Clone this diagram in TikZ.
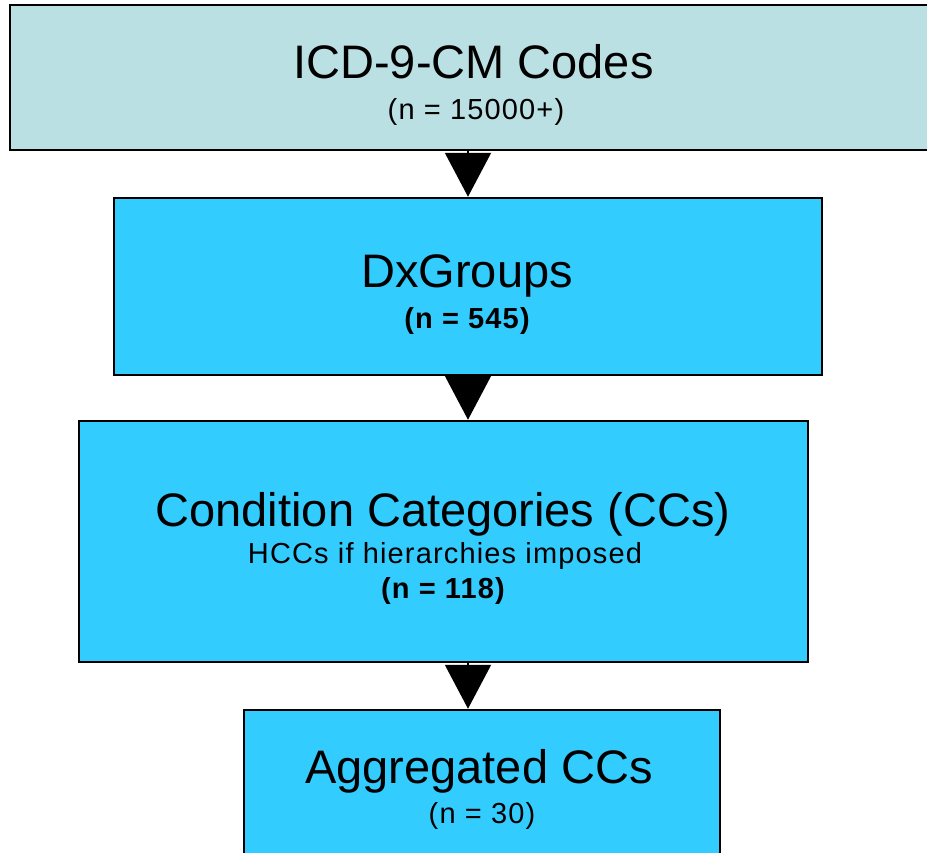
\documentclass[tikz,border=0pt]{standalone}
\usepackage{fontspec}
\setmainfont{Liberation Sans}
\newfontfamily\subfam[LetterSpace=4]{Liberation Sans}
\usetikzlibrary{arrows.meta}

\definecolor{icdteal}{HTML}{BBE0E3}
\definecolor{ccblue}{HTML}{33CCFF}

\tikzset{
  box/.style={draw=black, line width=2.5pt, fill=ccblue, inner sep=0pt},
  bigtxt/.style={anchor=base, font=\fontsize{47}{56}\selectfont},
  subtxt/.style={anchor=base, font=\subfam\fontsize{29}{35}\selectfont},
  arr/.style={line width=2pt, -{Triangle[width=46pt,length=44pt]}}
}

\begin{document}
\begin{tikzpicture}[x=1pt,y=-1pt]
\useasboundingbox (0,0) rectangle (927,852);

\node[box, fill=icdteal, minimum width=927pt, minimum height=145pt] (icd) at (473.5,77.5) {};
\node[bigtxt] (icdname) at (473.5,78) {ICD-9-CM Codes};
\node[subtxt] (icdn) at (476,119) {(n = 15000+)};

\node[box, minimum width=708pt, minimum height=177pt] (dx) at (468,286.5) {};
\node[bigtxt] (dxname) at (467,287) {DxGroups};
\node[subtxt] (dxn) at (467,328) {\bfseries (n = 545)};

\node[box, minimum width=729pt, minimum height=241pt] (cc) at (443.5,541.5) {};
\node[bigtxt] (ccname) at (443,526) {Condition Categories (CCs)};
\node[subtxt] (cchcc) at (445,563) {HCCs if hierarchies imposed};
\node[subtxt] (ccn) at (443,598) {\bfseries (n = 118)};

\node[box, minimum width=476pt, minimum height=160pt] (agg) at (482,790) {};
\node[bigtxt] (aggname) at (479,783) {Aggregated CCs};
\node[subtxt] (aggn) at (482,823) {(n = 30)};

\draw[arr] (icd.south -| dx.north) -- (dx.north);
\draw[arr] (dx.south) -- (cc.north -| dx.south);
\draw[arr] (cc.south -| dx.south) -- (agg.north -| dx.south);
\end{tikzpicture}
\end{document}
